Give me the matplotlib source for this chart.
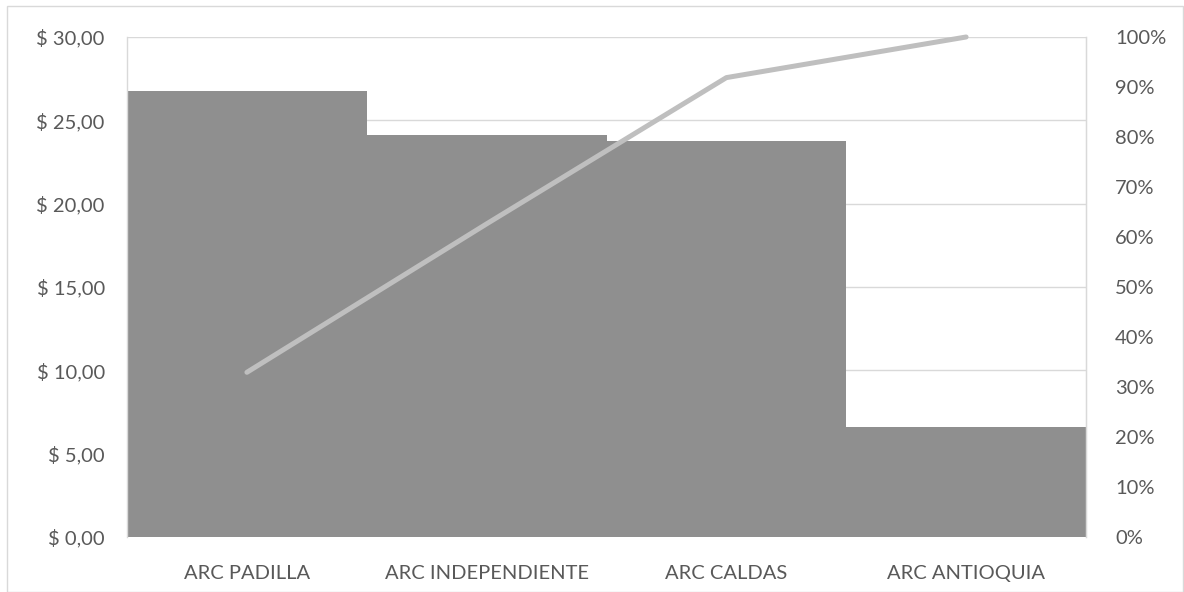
import matplotlib
matplotlib.use("Agg")
import matplotlib.pyplot as plt
from matplotlib.patches import Rectangle
from matplotlib.ticker import FuncFormatter, MultipleLocator

# Data
categories = ["ARC PADILLA", "ARC INDEPENDIENTE", "ARC CALDAS", "ARC ANTIOQUIA"]
costs = [26.76, 24.12, 23.76, 6.60]

total = sum(costs)
cumulative_pct = []
running = 0.0
for c in costs:
    running += c
    cumulative_pct.append(running / total * 100)

plt.rcParams["font.family"] = ["Lato", "DejaVu Sans"]
text_color = "#595959"
grid_color = "#d9d9d9"
label_size = 14.5

fig = plt.figure(figsize=(11.84, 5.92), dpi=100)
ax = fig.add_axes([0.1073, 0.0929, 0.8099, 0.8446])

x = list(range(len(categories)))
ax.bar(x, costs, width=1.0, color="#8f8f8f", zorder=2)
ax.set_xlim(-0.5, len(categories) - 0.5)
ax.set_ylim(0, 30)
ax.yaxis.set_major_locator(MultipleLocator(5))
ax.yaxis.set_major_formatter(FuncFormatter(lambda v, p: "$ " + f"{v:.2f}".replace(".", ",")))
ax.grid(axis="y", color=grid_color, linewidth=1.0, zorder=0)
ax.set_axisbelow(True)
ax.set_xticks(x)
ax.set_xticklabels(categories)
ax.tick_params(axis="both", length=0, colors=text_color, labelsize=label_size)
ax.tick_params(axis="y", pad=16)
ax.tick_params(axis="x", pad=20)
for side in ["top", "bottom"]:
    ax.spines[side].set_visible(False)
for side in ["left", "right"]:
    ax.spines[side].set_color(grid_color)
    ax.spines[side].set_linewidth(1.0)

ax2 = ax.twinx()
ax2.plot(x, cumulative_pct, color="#bfbfbf", linewidth=3.6,
         solid_capstyle="round", zorder=3, clip_on=False)
ax2.set_ylim(0, 100)
ax2.yaxis.set_major_locator(MultipleLocator(10))
ax2.yaxis.set_major_formatter(FuncFormatter(lambda v, p: f"{v:.0f}%"))
ax2.tick_params(axis="y", length=0, colors=text_color, labelsize=label_size, pad=21)
for side in ["top", "bottom", "left"]:
    ax2.spines[side].set_visible(False)
ax2.spines["right"].set_color(grid_color)

# Chart frame
fig.patches.append(Rectangle((7 / 1184, 0), 1176 / 1184, 586 / 592,
                             transform=fig.transFigure, fill=False,
                             edgecolor=grid_color, linewidth=1.0))

fig.savefig("out.png", dpi=100, facecolor="white")
